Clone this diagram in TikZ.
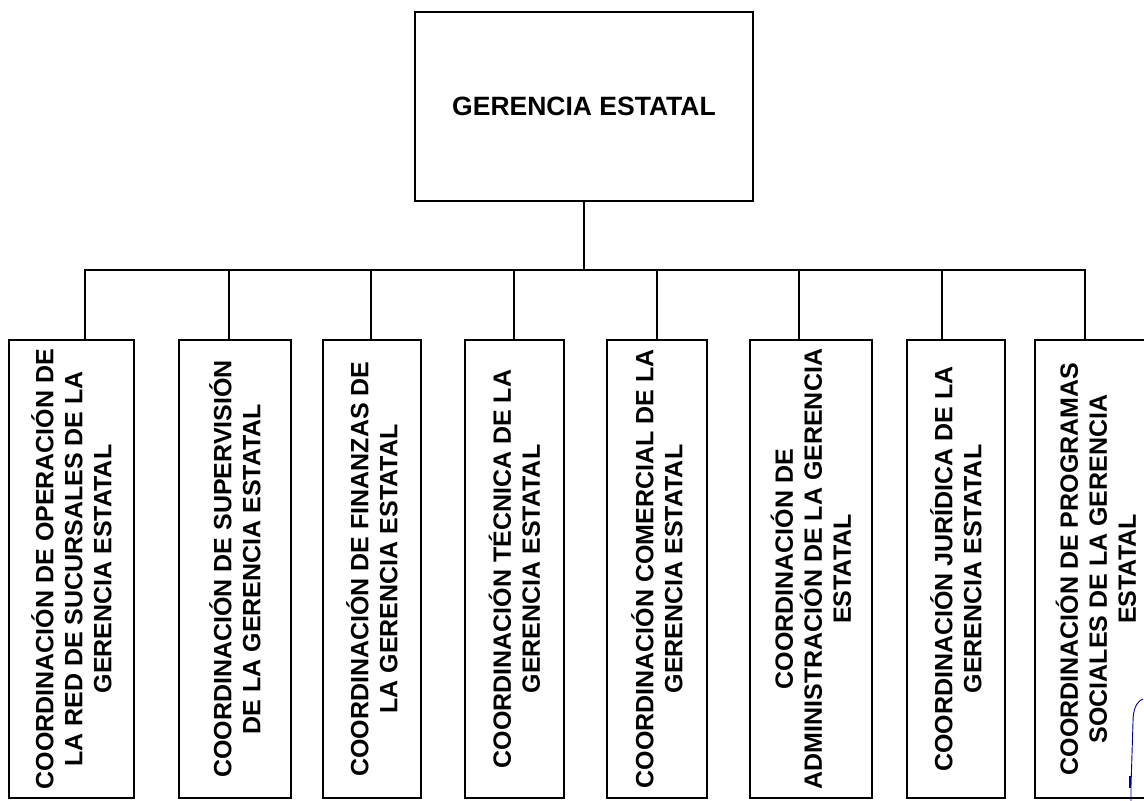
\documentclass[tikz,border=0pt]{standalone}
\usepackage{fontspec}
\setmainfont{Liberation Sans}
\begin{document}
\begin{tikzpicture}[x=1pt,y=-1pt,
  box/.style={draw=black, line width=2pt, inner sep=0pt, fill=white},
  label/.style={rotate=90, align=center, inner sep=0pt,
    font=\fontsize{25}{29}\selectfont\bfseries},
  link/.style={draw=black, line width=2pt}]
\useasboundingbox (0,0) rectangle (1144,801);
\clip (0,0) rectangle (1144,801);

% head office
\node[box, minimum width=338pt, minimum height=189pt,
      font=\fontsize{26.5}{30}\selectfont\bfseries] (top) at (584,106.5) {\raisebox{-1pt}{GERENCIA ESTATAL}};

% the eight coordination units
\node[box, minimum width=125pt, minimum height=458pt] (b1) at (71.5,569) {};
\node[box, minimum width=112pt, minimum height=458pt] (b2) at (235,569) {};
\node[box, minimum width=98pt,  minimum height=458pt] (b3) at (372,569) {};
\node[box, minimum width=99pt,  minimum height=458pt] (b4) at (514.5,569) {};
\node[box, minimum width=100pt, minimum height=458pt] (b5) at (657,569) {};
\node[box, minimum width=122pt, minimum height=458pt] (b6) at (811,569) {};
\node[box, minimum width=98pt,  minimum height=458pt] (b7) at (956,569) {};
\node[box, minimum width=122pt, minimum height=458pt] (b8) at (1096,569) {};

\node[label] (t1) at (b1) {COORDINACIÓN DE OPERACIÓN DE\\LA RED DE SUCURSALES DE LA\\GERENCIA ESTATAL};
\node[label] (t2) at (b2) {COORDINACIÓN DE SUPERVISIÓN\\DE LA GERENCIA ESTATAL};
\node[label] (t3) at (b3) {COORDINACIÓN DE FINANZAS DE\\LA GERENCIA ESTATAL};
\node[label] (t4) at (b4) {COORDINACIÓN TÉCNICA DE LA\\GERENCIA ESTATAL};
\node[label] (t5) at (b5) {COORDINACIÓN COMERCIAL DE LA\\GERENCIA ESTATAL};
\node[label] (t6) at (b6) {COORDINACIÓN DE\\ADMINISTRACIÓN DE LA GERENCIA\\ESTATAL};
\node[label] (t7) at (b7) {COORDINACIÓN JURÍDICA DE LA\\GERENCIA ESTATAL};
\node[label] (t8) at (b8) {COORDINACIÓN DE PROGRAMAS\\SOCIALES DE LA GERENCIA\\ESTATAL};

% bus junctions
\coordinate (hub) at (584,270);
\coordinate (j1) at (85,270);
\coordinate (j2) at (229,270);
\coordinate (j3) at (371,270);
\coordinate (j4) at (514,270);
\coordinate (j5) at (657,270);
\coordinate (j6) at (799,270);
\coordinate (j7) at (942,270);
\coordinate (j8) at (1085,270);

\draw[link] (top.south) -- (hub);
\draw[link, line cap=rect] (j1) -- (j8);
\foreach \i in {1,...,8} {
  \draw[link] (j\i) -- (j\i |- b\i.north);
}

% initials in ink
\draw[blue!60!black, line width=0.9pt]
  (1143,699) .. controls (1136,702) and (1133,710) .. (1133,722)
  -- (1131,786) -- (1131,801);
\draw[blue!60!black, line width=2pt] (1130,776) -- (1130,788);
\end{tikzpicture}
\end{document}
